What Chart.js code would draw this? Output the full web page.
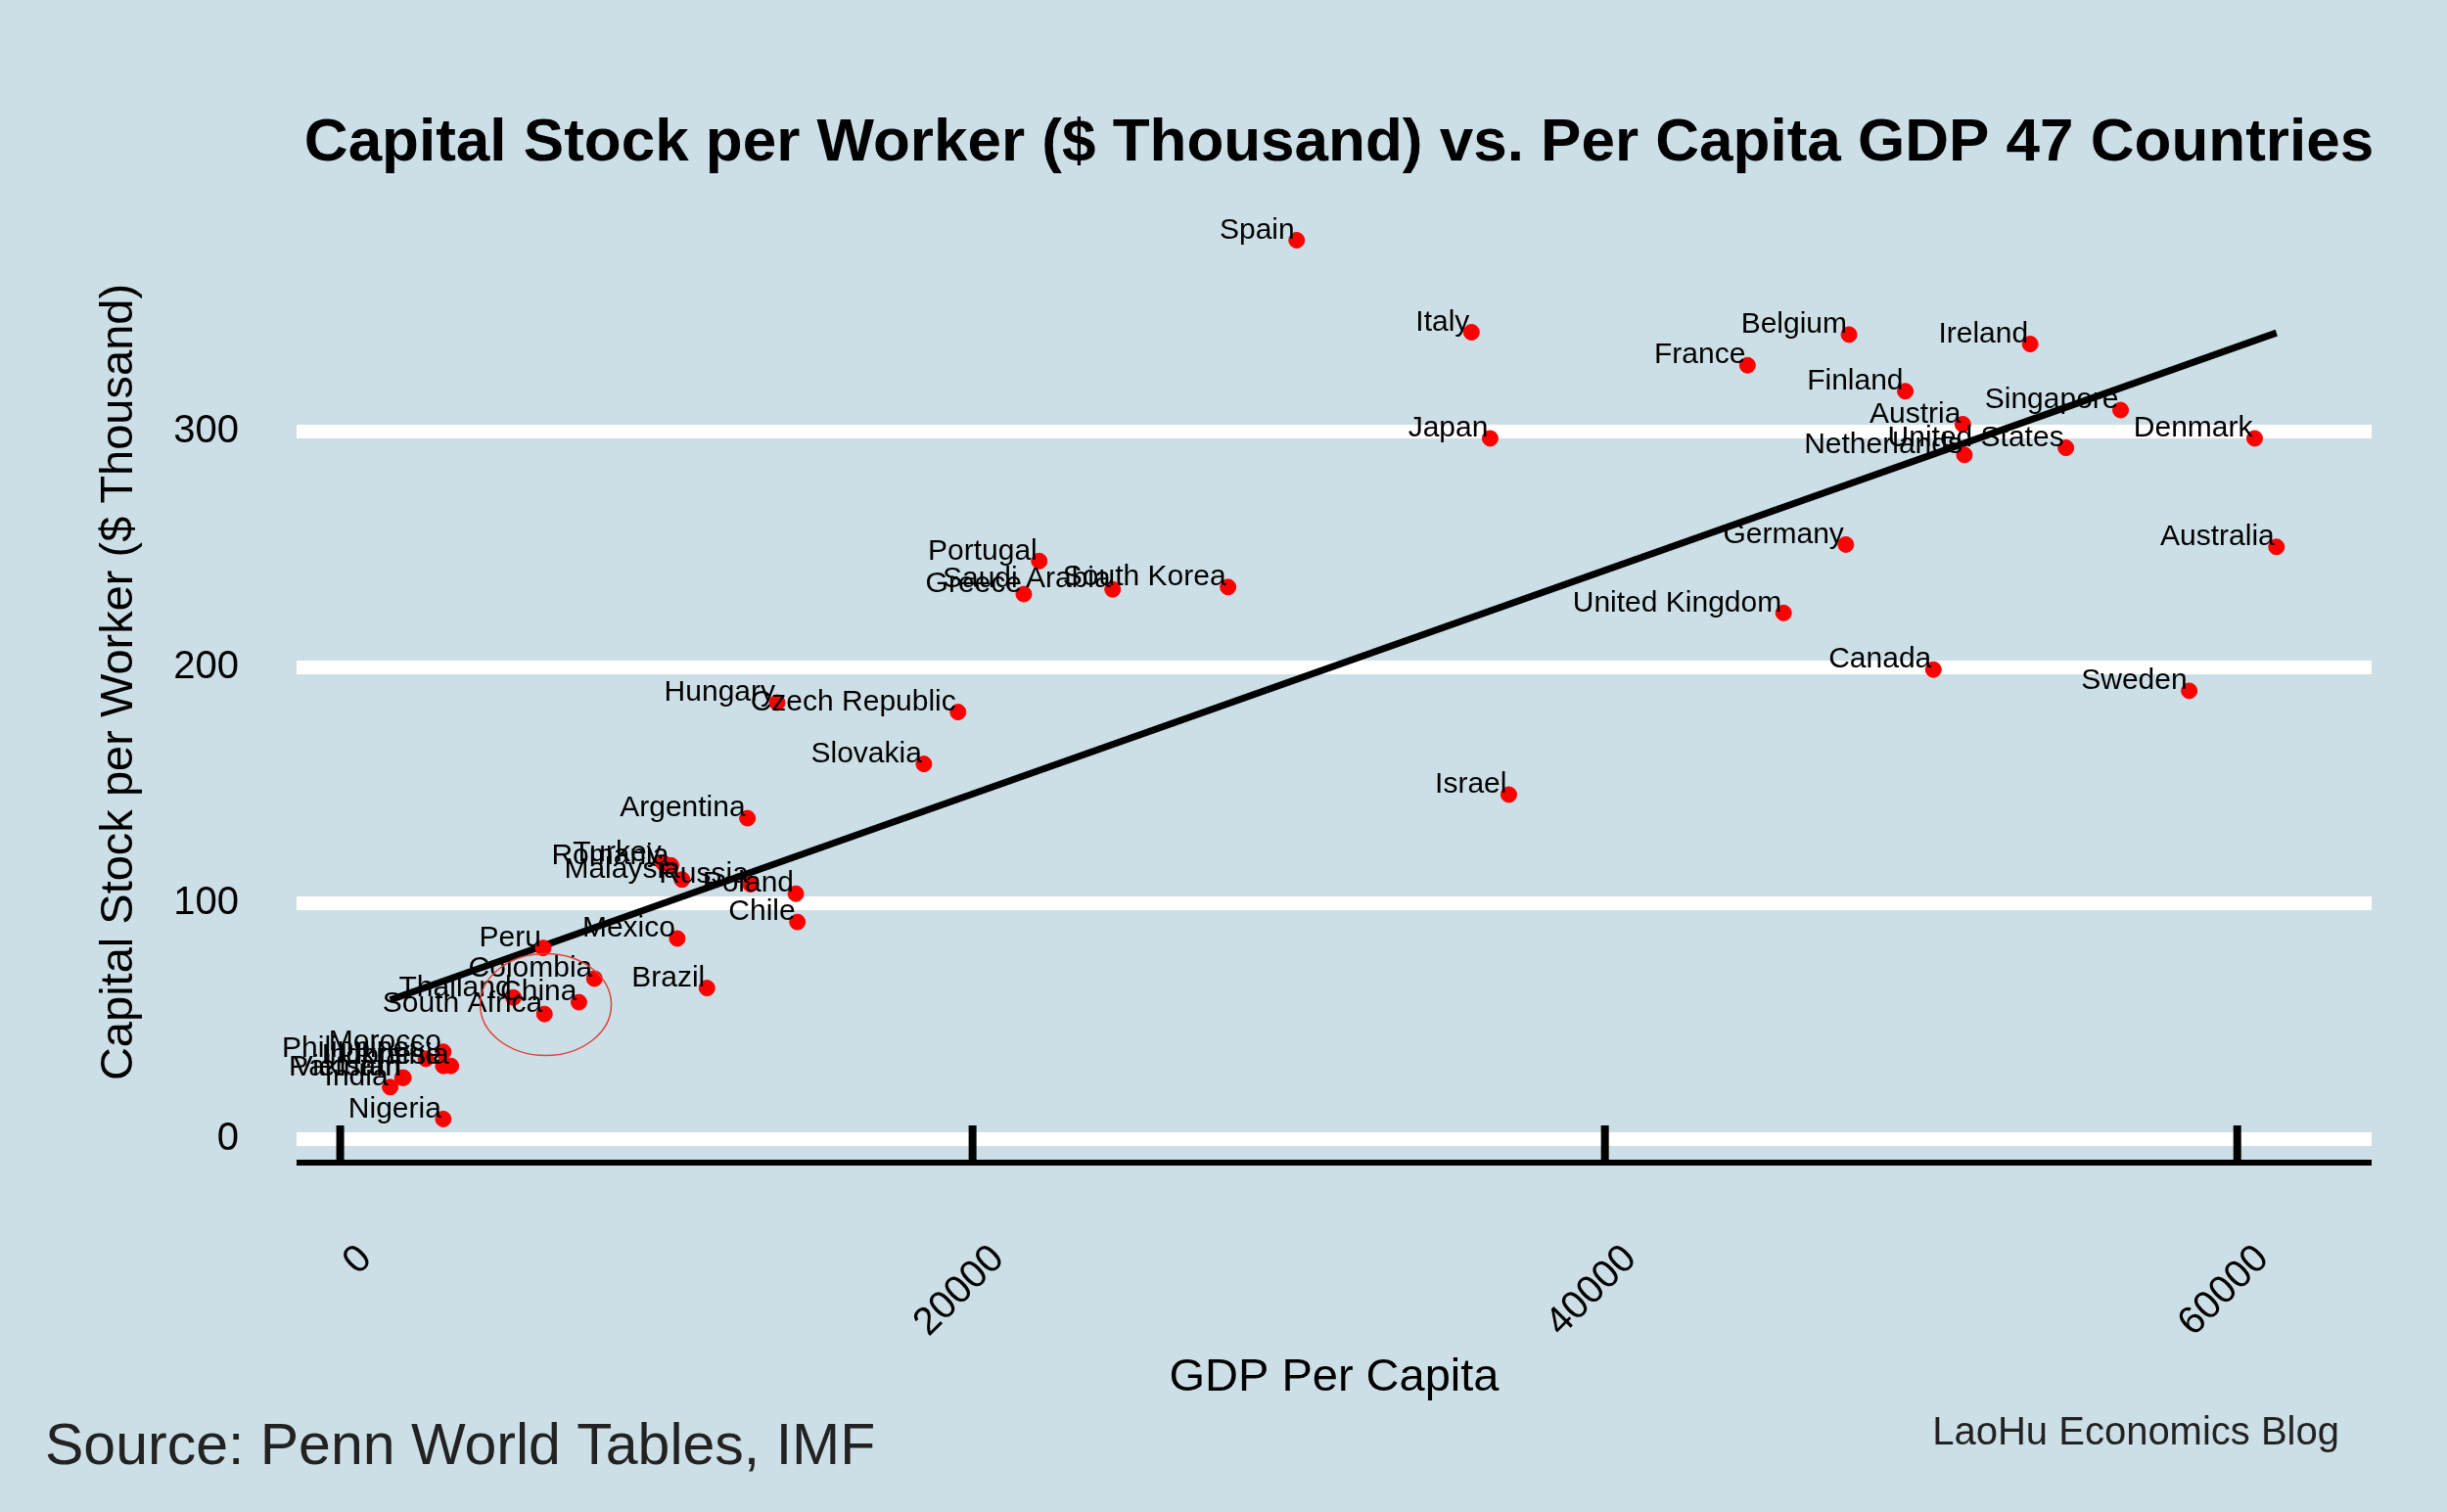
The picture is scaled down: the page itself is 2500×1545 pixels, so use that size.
<!DOCTYPE html>
<html><head><meta charset="utf-8">
<script src="https://cdn.jsdelivr.net/npm/chart.js@4/dist/chart.umd.min.js"></script>
<style>html,body{margin:0;padding:0;background:#cddfe6;}#c{display:block;}</style>
</head><body>
<canvas id="c" width="2500" height="1545"></canvas>
<script>
const countries = ["Spain","Italy","Japan","Belgium","France","Ireland","Finland","Singapore","Austria","Netherlands","United States","Denmark","Germany","Australia","United Kingdom","Canada","Sweden","Israel","Portugal","Saudi Arabia","Greece","South Korea","Hungary","Czech Republic","Slovakia","Argentina","Romania","Turkey","Malaysia","Russia","Poland","Chile","Mexico","Peru","Colombia","Brazil","China","Thailand","South Africa","Morocco","Philippines","Indonesia","Ukraine","Pakistan","Vietnam","India","Nigeria"];
const gdpPerCapita = [30250,35780,36370,47720,44510,53450,49500,56310,51320,51370,54580,60550,47620,61240,45650,50390,58480,36960,22110,24430,21620,28080,13820,19540,18460,12880,10460,10220,10810,12980,14410,14460,10660,6420,8040,11600,7550,5480,6460,3260,2710,3500,3260,2000,1970,1580,3260];
const capitalPerWorker = [381,342,297,341,328,337,317,309,303,290,293,297,252,251,223,199,190,146,245,233,231,234,185,181,159,136,116,117,110,108,104,92,85,81,68,64,58,60,53,37,34,31,31,26,26,22,8.5];
const xTicks = [0,20000,40000,60000];
const yTicks = [0,100,200,300];

const n = gdpPerCapita.length;
const mx = gdpPerCapita.reduce((a,b)=>a+b,0)/n, my = capitalPerWorker.reduce((a,b)=>a+b,0)/n;
let sxy=0,sxx=0; for(let i=0;i<n;i++){sxy+=(gdpPerCapita[i]-mx)*(capitalPerWorker[i]-my);sxx+=(gdpPerCapita[i]-mx)**2;}
const slope=sxy/sxx, icpt=my-slope*mx;
const xmin=Math.min(...gdpPerCapita), xmax=Math.max(...gdpPerCapita);
const fitLine=[{x:xmin,y:icpt+slope*xmin},{x:xmax,y:icpt+slope*xmax}];

const F='"Liberation Sans", Arial, sans-serif';
const deco={id:'deco',
 beforeDraw(c){const g=c.ctx;g.save();g.fillStyle='#cddfe6';g.fillRect(0,0,c.width,c.height);g.restore();},
 afterDatasetsDraw(c){
  const g=c.ctx,xs=c.scales.x,ys=c.scales.y,a=c.chartArea;g.save();
  g.fillStyle='#000';g.font='30px '+F;g.textAlign='right';g.textBaseline='middle';
  countries.forEach((nm,i)=>{g.fillText(nm,xs.getPixelForValue(gdpPerCapita[i])-2,ys.getPixelForValue(capitalPerWorker[i])-10);});
  const ex=xs.getPixelForValue(6500), ey=ys.getPixelForValue(57);
  g.strokeStyle='#e0403a';g.lineWidth=1.5;g.beginPath();g.ellipse(ex,ey,67,52,0,0,Math.PI*2);g.stroke();
  g.fillStyle='#000';g.fillRect(a.left,a.bottom-3,a.right-a.left,6);
  xTicks.forEach(v=>{const px=xs.getPixelForValue(v);g.fillRect(px-4,a.bottom-38,8,38);});
  g.font='40px '+F;g.textAlign='right';g.textBaseline='middle';
  yTicks.forEach(v=>g.fillText(String(v),244,ys.getPixelForValue(v)));
  xTicks.forEach(v=>{const px=xs.getPixelForValue(v);g.save();g.translate(px+26,a.bottom+92);g.rotate(-Math.PI/4);g.textAlign='right';g.textBaseline='middle';g.fillText(String(v),0,0);g.restore();});
  g.font='47px '+F;g.textAlign='center';g.textBaseline='middle';
  g.fillText('GDP Per Capita',1363,1408);
  g.save();g.translate(122,697);g.rotate(-Math.PI/2);g.fillText('Capital Stock per Worker ($ Thousand)',0,0);g.restore();
  g.font='bold 62px '+F;g.fillText('Capital Stock per Worker ($ Thousand) vs. Per Capita GDP 47 Countries',1368,147);
  g.font='59px '+F;g.textAlign='left';g.fillStyle='#222';g.fillText('Source: Penn World Tables, IMF',46,1480);
  g.font='40px '+F;g.textAlign='right';g.fillText('LaoHu Economics Blog',2390,1465);
  g.restore();}
};
new Chart(document.getElementById('c'),{
 type:'scatter',
 data:{datasets:[
  {label:'fit',type:'line',data:fitLine,borderColor:'#000',borderWidth:7,pointRadius:0,fill:false,order:2},
  {label:'countries',data:gdpPerCapita.map((x,i)=>({x,y:capitalPerWorker[i]})),backgroundColor:'#ff0000',borderColor:'#ff0000',pointRadius:8,order:1}
 ]},
 options:{responsive:false,animation:false,devicePixelRatio:1,
  layout:{padding:{left:303,right:77,top:231,bottom:349}},
  plugins:{legend:{display:false},tooltip:{enabled:false}},
  scales:{
   x:{type:'linear',min:-1380,max:64250,grid:{display:false},border:{display:false},ticks:{display:false}},
   y:{type:'linear',min:-10,max:387,afterBuildTicks:s=>{s.ticks=yTicks.map(v=>({value:v}));},grid:{color:'#ffffff',lineWidth:14,drawTicks:false},border:{display:false},ticks:{display:false}}
  }},
 plugins:[deco]
});
</script></body></html>
